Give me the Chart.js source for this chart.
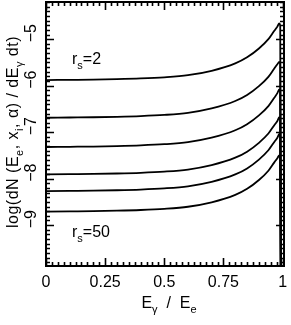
<!DOCTYPE html>
<html>
<head>
<meta charset="utf-8">
<script src="https://cdn.jsdelivr.net/npm/chart.js"></script>
<style>
  body { margin: 0; background: #fff; }
  canvas { display: block; }
</style>
</head>
<body>
<canvas id="myChart" width="291" height="325"></canvas>
<script>
// photon energy fraction E_gamma / E_e (shared by every curve)
const energyRatio = [0, 0.1, 0.2, 0.3, 0.4, 0.5, 0.6, 0.7, 0.8, 0.85, 0.9, 0.94, 0.965, 0.978, 0.986, 0.990, 0.9925];

// log(dN/dE dt), one curve per r_s, from r_s=2 (top) down to r_s=50 (bottom)
const logRate1 = [-5.88, -5.875, -5.87, -5.86, -5.845, -5.82, -5.775, -5.68, -5.52, -5.39, -5.20, -5.00, -4.82, -4.73, -4.66, -4.71, -10];
const logRate2 = [-6.69, -6.685, -6.68, -6.67, -6.655, -6.63, -6.585, -6.49, -6.33, -6.20, -6.01, -5.81, -5.63, -5.54, -5.49, -5.53, -10];
const logRate3 = [-7.32, -7.315, -7.31, -7.30, -7.285, -7.26, -7.215, -7.12, -6.96, -6.83, -6.64, -6.44, -6.26, -6.16, -6.08, -6.13, -10];
const logRate4 = [-7.91, -7.905, -7.90, -7.89, -7.875, -7.85, -7.805, -7.71, -7.55, -7.42, -7.23, -7.03, -6.85, -6.76, -6.68, -6.73, -10];
const logRate5 = [-8.27, -8.265, -8.26, -8.25, -8.235, -8.21, -8.165, -8.07, -7.91, -7.78, -7.59, -7.39, -7.21, -7.12, -7.04, -7.09, -10];
const logRate6 = [-8.71, -8.705, -8.70, -8.69, -8.675, -8.65, -8.605, -8.51, -8.35, -8.22, -8.03, -7.83, -7.65, -7.56, -7.50, -7.55, -10];

// axes
const xTicks = [0, 0.25, 0.5, 0.75, 1];
const yTicks = [-9, -8, -7, -6, -5];
const xRange = [0, 1.006];
const yRange = [-9.88, -4.2];

// r_s values written next to the top and bottom curves
const rsLabels = ['2', '50'];

const fontFamily = '"Liberation Sans", Arial, Helvetica, sans-serif';

// draw text made of normal and subscript pieces
function drawRich(ctx, parts, x, y, size) {
    for (const [t, sub] of parts) {
        ctx.font = (sub ? Math.round(size * 0.7) : size) + 'px ' + fontFamily;
        ctx.fillText(t, x, y + (sub ? size * 0.33 : 0));
        x += ctx.measureText(t).width;
    }
    return x;
}

function richWidth(ctx, parts, size) {
    let w = 0;
    for (const [t, sub] of parts) {
        ctx.font = (sub ? Math.round(size * 0.7) : size) + 'px ' + fontFamily;
        w += ctx.measureText(t).width;
    }
    return w;
}

// frame, inward ticks, curve labels and axis titles
const decorations = {
    id: 'decorations',
    afterDraw(chart) {
        const { ctx, chartArea: a, scales: { x, y } } = chart;
        ctx.save();
        ctx.strokeStyle = '#000';
        ctx.lineWidth = 1.6;
        ctx.beginPath();
        for (let i = 0; i <= 40; i++) {
            const px = Math.round(x.getPixelForValue(i * 0.025)) + 0.5;
            const len = i % 10 === 0 ? 8 : 4;
            ctx.moveTo(px, a.bottom);
            ctx.lineTo(px, a.bottom - len);
            ctx.moveTo(px, a.top);
            ctx.lineTo(px, a.top + len);
        }
        for (let i = -98; i <= -42; i++) {
            const py = Math.round(y.getPixelForValue(i / 10)) + 0.5;
            const len = i % 10 === 0 ? 8 : 4;
            ctx.moveTo(a.left, py);
            ctx.lineTo(a.left + len, py);
            ctx.moveTo(a.right, py);
            ctx.lineTo(a.right - len, py);
        }
        ctx.stroke();
        ctx.lineWidth = 2;
        ctx.strokeRect(a.left, a.top, a.right - a.left, a.bottom - a.top);

        ctx.fillStyle = '#000';
        ctx.textAlign = 'left';
        ctx.textBaseline = 'alphabetic';
        drawRich(ctx, [['r'], ['s', true], ['=' + rsLabels[0]]], x.getPixelForValue(0.11), y.getPixelForValue(-5.53), 16);
        drawRich(ctx, [['r'], ['s', true], ['=' + rsLabels[1]]], x.getPixelForValue(0.11), y.getPixelForValue(-9.26), 16);

        // x title
        const xTitle = [['E'], ['\u03b3', true], ['  /  E'], ['e', true]];
        const xw = richWidth(ctx, xTitle, 16);
        drawRich(ctx, xTitle, 169 - xw / 2, 308, 16);

        // y title, rotated, spread a little to the length of the original
        const yTitle = [['log(dN (E'], ['e', true], [', x'], ['i', true], [', \u03b1) / dE'], ['\u03b3', true], [' dt)']];
        ctx.letterSpacing = '0.5px';
        const yw = richWidth(ctx, yTitle, 16);
        ctx.translate(18, 132);
        ctx.rotate(-Math.PI / 2);
        drawRich(ctx, yTitle, -yw / 2, 0, 16);
        ctx.restore();
    }
};

function toPoints(values) {
    return energyRatio.map((e, i) => ({ x: e, y: values[i] }));
}

const curves = [logRate1, logRate2, logRate3, logRate4, logRate5, logRate6];

const myChart = new Chart(document.getElementById('myChart').getContext('2d'), {
    type: 'line',
    data: {
        datasets: curves.map((c, i) => ({
            label: 'curve ' + (i + 1),
            data: toPoints(c),
            borderColor: '#000',
            borderWidth: 1.8,
            pointRadius: 0,
            fill: false,
            cubicInterpolationMode: 'monotone'
        }))
    },
    options: {
        responsive: false,
        animation: false,
        events: [],
        layout: { padding: { top: 2, right: 7, left: 0, bottom: 0 } },
        plugins: { legend: { display: false }, tooltip: { enabled: false } },
        scales: {
            x: {
                type: 'linear',
                min: xRange[0],
                max: xRange[1],
                grid: { display: false, drawTicks: false },
                border: { display: false },
                afterBuildTicks: s => { s.ticks = xTicks.map(v => ({ value: v })); },
                afterFit: s => { s.height = 59; s.paddingLeft = 0; s.paddingRight = 0; },
                ticks: {
                    color: '#000',
                    padding: 7,
                    maxRotation: 0,
                    font: { family: fontFamily, size: 16 },
                    callback: v => String(v)
                }
            },
            y: {
                type: 'linear',
                min: yRange[0],
                max: yRange[1],
                grid: { display: false, drawTicks: false },
                border: { display: false },
                afterBuildTicks: s => { s.ticks = yTicks.map(v => ({ value: v })); },
                afterFit: s => { s.width = 46; s.paddingTop = 0; s.paddingBottom = 0; },
                ticks: {
                    color: '#000',
                    minRotation: 90,
                    maxRotation: 90,
                    crossAlign: 'center',
                    padding: 5,
                    labelOffset: -6,
                    font: { family: fontFamily, size: 16 },
                    callback: v => String(v).replace('-', '\u2212')
                }
            }
        }
    },
    plugins: [decorations]
});
</script>
</body>
</html>
